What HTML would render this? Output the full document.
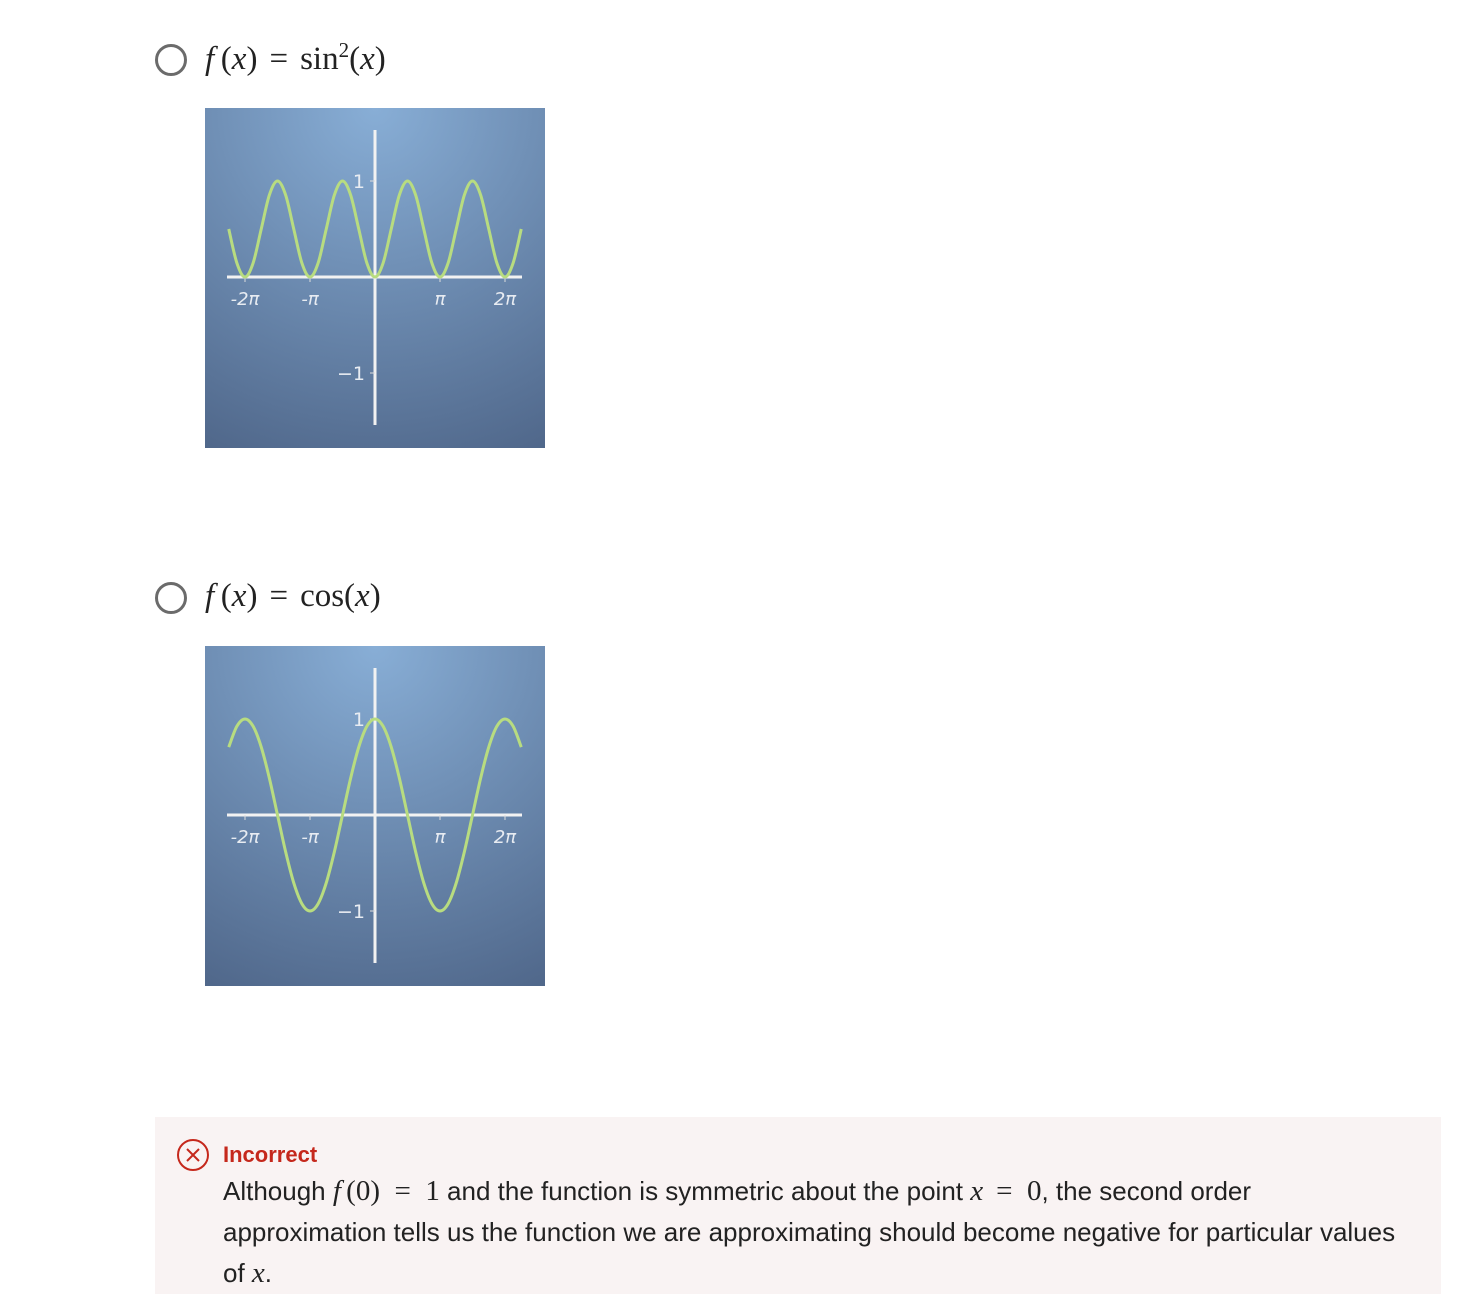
<!DOCTYPE html>
<html><head><meta charset="utf-8"><style>
body{margin:0;width:1480px;height:1294px;background:#fff;position:relative;overflow:hidden;font-family:"Liberation Sans",sans-serif}
.radio{position:absolute;left:155px;width:26px;height:26px;border:3px solid #6b6b6b;border-radius:50%}
.math{position:absolute;left:205px;font-family:"Liberation Serif",serif;font-size:33px;color:#222;white-space:nowrap}
.math i{font-style:italic}
.sp{display:inline-block;width:12px}
svg.chart{position:absolute;left:205px}
#fb{position:absolute;left:155px;top:1117px;width:1286px;height:177px;background:#f9f3f3}
#fbtext{position:absolute;left:68px;top:54px;width:1210px;font-size:26px;line-height:41px;color:#222;white-space:nowrap}
#fbtext i{font-family:"Liberation Serif",serif;font-size:29px}
.m{font-family:"Liberation Serif",serif;font-size:29px}
</style></head><body>
<div class="radio" style="top:44px"></div>
<div class="math" style="top:38px"><i>f</i>&#8201;(<i>x</i>)<span class="sp"></span>=<span class="sp"></span>sin<sup style="font-size:21px">2</sup>(<i>x</i>)</div>
<svg class="chart" id="c1" width="340" height="340" style="top:108px"></svg>
<div class="radio" style="top:582px"></div>
<div class="math" style="top:578px"><i>f</i>&#8201;(<i>x</i>)<span class="sp"></span>=<span class="sp"></span>cos(<i>x</i>)</div>
<svg class="chart" id="c2" width="340" height="340" style="top:646px"></svg>
<div id="fb">
<svg style="position:absolute;left:21px;top:21px" width="34" height="34"><circle cx="17" cy="17" r="15" fill="none" stroke="#c5281c" stroke-width="2"/><path d="M11 11L23 23M23 11L11 23" stroke="#c5281c" stroke-width="2"/></svg>
<div style="position:absolute;left:68px;top:25px;font-size:22px;font-weight:bold;color:#c5281c">Incorrect</div>
<div id="fbtext">Although <i>f</i>&#8201;<span class="m">(0)&#8194;=&#8194;1</span> and the function is symmetric about the point <i>x</i>&#8194;<span class="m">=&#8194;0</span>, the second order<br>approximation tells us the function we are approximating should become negative for particular values<br>of <i>x</i>.</div>
</div>
<script>
// x in units of pi/8, from -2.25pi to 2.25pi
const xSteps=[-18,-17,-16,-15,-14,-13,-12,-11,-10,-9,-8,-7,-6,-5,-4,-3,-2,-1,0,1,2,3,4,5,6,7,8,9,10,11,12,13,14,15,16,17,18];
const sin2Values=[0.5,0.146,0,0.146,0.5,0.854,1,0.854,0.5,0.146,0,0.146,0.5,0.854,1,0.854,0.5,0.146,0,0.146,0.5,0.854,1,0.854,0.5,0.146,0,0.146,0.5,0.854,1,0.854,0.5,0.146,0,0.146,0.5];
const cosValues=[0.707,0.924,1,0.924,0.707,0.383,0,-0.383,-0.707,-0.924,-1,-0.924,-0.707,-0.383,0,0.383,0.707,0.924,1,0.924,0.707,0.383,0,-0.383,-0.707,-0.924,-1,-0.924,-0.707,-0.383,0,0.383,0.707,0.924,1,0.924,0.707];
const xTickVals=[-2,-1,1,2];
const xTickLabels=['-2π','-π','π','2π'];
const yTickVals=[1,-1];
const yTickLabels=['1','−1'];
const NS='http://www.w3.org/2000/svg';
const ox=170,oy=169,px=65,py=96;
const sx=v=>ox+v*px, sy=v=>oy-v*py;
function el(p,t,a){const e=document.createElementNS(NS,t);for(const k in a)e.setAttribute(k,a[k]);p.appendChild(e);return e;}
function draw(id,vals,nm){
 const s=document.getElementById(id);
 const d=el(s,'defs',{});
 const g=el(d,'radialGradient',{id:'g'+id,cx:'0.85',cy:'0',r:'1.15',fx:'0.85',fy:'0',gradientTransform:'translate(-0.35,0)'});
 el(g,'stop',{offset:'0','stop-color':'#88aed6'});
 el(g,'stop',{offset:'1','stop-color':'#4e6588'});
 const bg=el(s,'rect',{x:0,y:0,width:340,height:340,fill:'url(#g'+id+')'});
 
 
 const xa=el(s,'line',{x1:22,y1:oy,x2:317,y2:oy,stroke:'#f2f2f2','stroke-width':3});
 
 
 const ya=el(s,'line',{x1:ox,y1:22,x2:ox,y2:317,stroke:'#f2f2f2','stroke-width':3});
 
 
 xTickVals.forEach((v,i)=>{
  el(s,'line',{x1:sx(v),y1:oy,x2:sx(v),y2:oy+5,stroke:'#ddd','stroke-width':1});
  const t=el(s,'text',{x:sx(v),y:oy+28,'text-anchor':'middle',fill:'#e8ecf2','font-size':18,'font-family':'DejaVu Sans, sans-serif','font-style':'italic'});
  t.textContent=xTickLabels[i];
  
  
 });
 yTickVals.forEach((v,i)=>{
  el(s,'line',{x1:ox-5,y1:sy(v),x2:ox,y2:sy(v),stroke:'#ddd','stroke-width':1});
  const t=el(s,'text',{x:ox-10,y:sy(v)+7,'text-anchor':'end',fill:'#e8ecf2','font-size':19,'font-family':'DejaVu Sans, sans-serif'});
  t.textContent=yTickLabels[i];
  
  
 });
 const P=xSteps.map((k,i)=>[sx(k/8),sy(vals[i])]);
 let dd='M'+P[0][0]+' '+P[0][1];
 for(let i=0;i<P.length-1;i++){const p0=P[i-1]||P[i],p1=P[i],p2=P[i+1],p3=P[i+2]||P[i+1];
  dd+=' C'+(p1[0]+(p2[0]-p0[0])/6)+' '+(p1[1]+(p2[1]-p0[1])/6)+' '+(p2[0]-(p3[0]-p1[0])/6)+' '+(p2[1]-(p3[1]-p1[1])/6)+' '+p2[0]+' '+p2[1];}
 const c=el(s,'path',{d:dd,fill:'none',stroke:'#b8dc80','stroke-width':3});
 
 
}
draw('c1',sin2Values,'sin2-curve');
draw('c2',cosValues,'cos-curve');
</script>
</body></html>
